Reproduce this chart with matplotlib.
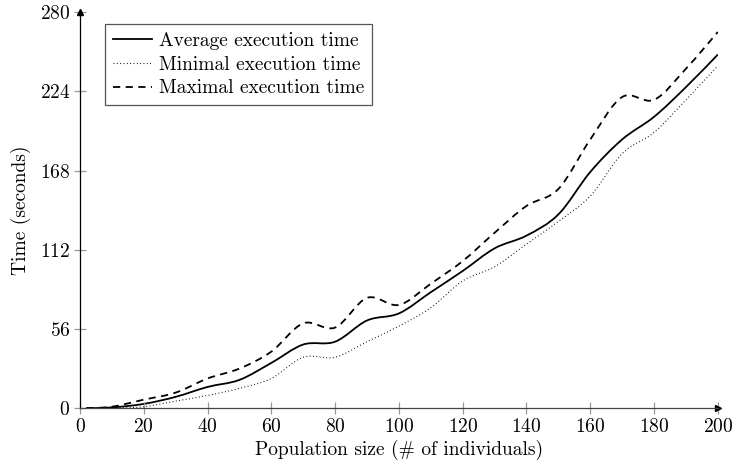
import numpy as np
import matplotlib
matplotlib.use("Agg")
import matplotlib.pyplot as plt
from matplotlib.path import Path
from matplotlib.patches import PathPatch
from matplotlib.lines import Line2D

plt.rcParams['font.family'] = ['cmr10', 'DejaVu Serif']
plt.rcParams['font.size'] = 14
plt.rcParams['axes.formatter.use_mathtext'] = True

# population sizes and execution times (seconds)
pop = [2, 10, 20, 30, 40, 50, 60, 70, 80, 90, 100, 110, 120, 130, 140, 150, 160, 170, 180, 190, 200]
avg_time = [0, 0.5, 3, 8, 15, 20, 32, 45, 47, 62, 67, 82, 97, 113, 122, 137, 167, 190, 206, 227, 250]
min_time = [0, 0, 1, 5, 9, 14, 21, 36, 36, 47, 58, 71, 90, 100, 116, 132, 150, 180, 195, 218, 242]
max_time = [0, 1, 6, 11, 21, 28, 40, 60, 57, 78, 73, 88, 104, 124, 143, 155, 190, 220, 218, 240, 266]

x_ticks = [0, 20, 40, 60, 80, 100, 120, 140, 160, 180, 200]
y_ticks = [0, 56, 112, 168, 224, 280]


# smooth path through the points (like pgfplots "smooth")
def smooth_path(xs, ys, tension=0.5):
    p = np.column_stack([xs, ys]).astype(float)
    verts = [p[0]]
    codes = [Path.MOVETO]
    n = len(p)
    for i in range(n - 1):
        p0 = p[i - 1] if i > 0 else p[i]
        p3 = p[i + 2] if i + 2 < n else p[i + 1]
        c1 = p[i] + (p[i + 1] - p0) * tension / 3
        c2 = p[i + 1] - (p3 - p[i]) * tension / 3
        verts += [c1, c2, p[i + 1]]
        codes += [Path.CURVE4] * 3
    return Path(verts, codes)


fig = plt.figure(figsize=(7.34, 4.67), dpi=100)
ax = fig.add_axes([0.109, 0.126, 0.869, 0.848])

series = [(avg_time, '-', 1.3, 'Average execution time'),
          (min_time, (0, (0.8, 2.2)), 0.8, 'Minimal execution time'),
          (max_time, (0, (4, 3)), 1.3, 'Maximal execution time')]
handles = []
for ys, ls, lw, lab in series:
    ax.add_patch(PathPatch(smooth_path(pop, ys), facecolor='none', edgecolor='black',
                           linestyle=ls, linewidth=lw))
    handles.append(Line2D([], [], color='black', linestyle=ls, linewidth=lw, label=lab))

ax.set_xlim(0, 200)
ax.set_ylim(0, 280)
ax.set_xticks(x_ticks)
ax.set_yticks(y_ticks)
ax.spines['top'].set_visible(False)
ax.spines['right'].set_visible(False)
ax.spines['left'].set_linewidth(0.9)
ax.spines['bottom'].set_linewidth(0.9)
ax.spines['bottom'].set_color('#444444')
ax.tick_params(direction='inout', length=8, width=0.9, color='#999999', pad=3)

# arrow tips at axis ends
ax.plot(1, 0, '>', color='black', markersize=4, transform=ax.get_yaxis_transform(), clip_on=False)
ax.plot(0, 1, '^', color='black', markersize=4, transform=ax.get_xaxis_transform(), clip_on=False)

ax.set_xlabel('Population size (# of individuals)', labelpad=3)
ax.set_ylabel('Time (seconds)', labelpad=6)

leg = ax.legend(handles=handles, loc='upper left', bbox_to_anchor=(0.039, 0.97),
                fancybox=False, framealpha=1, edgecolor='#555555', handlelength=2.0,
                handletextpad=0.4, borderpad=0.4, labelspacing=0.3, borderaxespad=0)
leg.get_frame().set_linewidth(0.9)

fig.savefig('out.png', dpi=100)
